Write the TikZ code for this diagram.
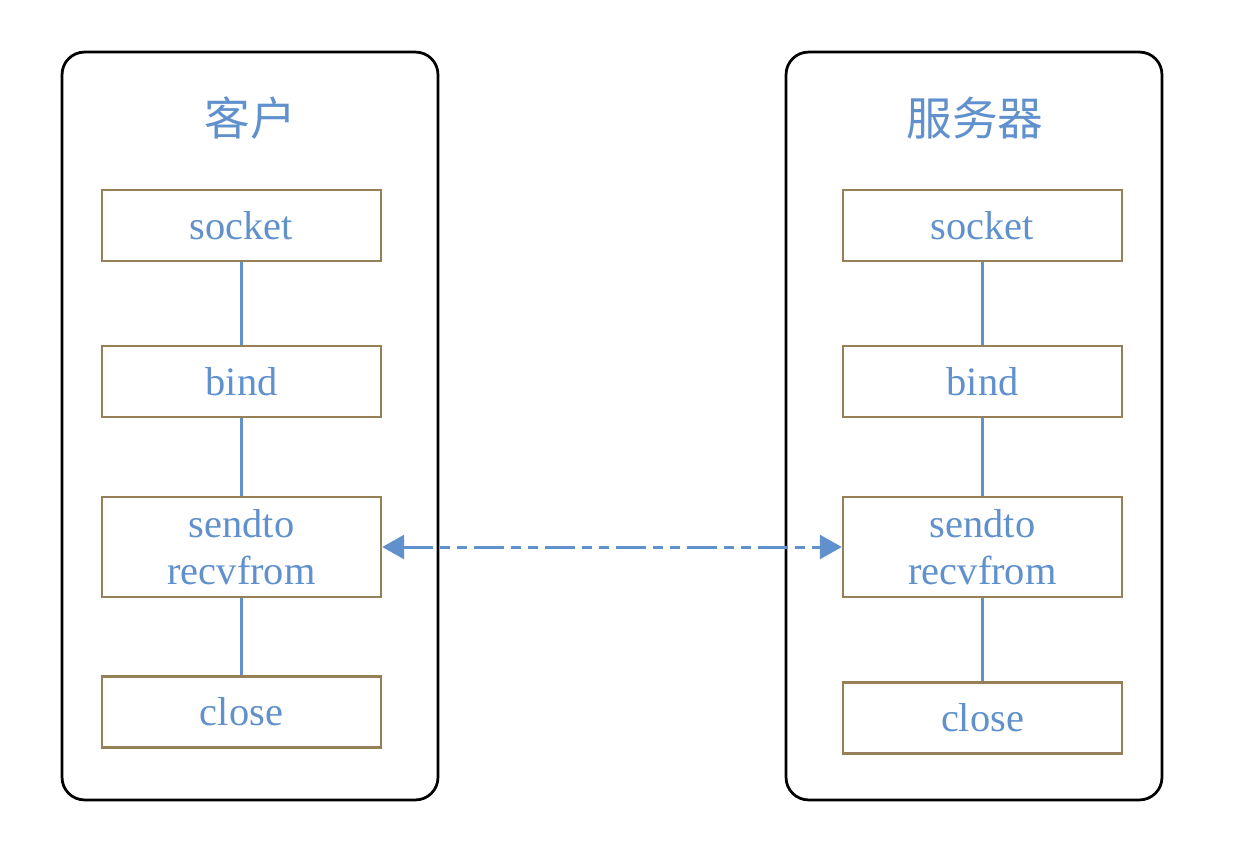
\documentclass[tikz,border=0pt]{standalone}
\usepackage{fontspec}
\setmainfont{Liberation Serif}
\newfontfamily\cjk{Noto Sans CJK SC}
\usetikzlibrary{arrows.meta}
\definecolor{txtblue}{RGB}{96,145,204}
\definecolor{boxbrown}{RGB}{150,128,88}
\begin{document}
\begin{tikzpicture}[x=0.02cm,y=-0.02cm,
  side/.style={draw=black,line width=0.055cm,rounded corners=0.45cm,minimum width=7.52cm,minimum height=14.96cm},
  title/.style={text=txtblue,font=\cjk\fontsize{26}{30}\selectfont},
  call/.style={draw=boxbrown,line width=0.05cm,fill=white,text=txtblue,minimum width=5.58cm,minimum height=1.42cm,align=center,inner sep=0pt,font=\fontsize{23}{27}\selectfont},
  link/.style={draw=txtblue,line width=0.05cm}]
\useasboundingbox (0,0) rectangle (1246,858);
\node[side] (client) at (250,426) {};
\node[side] (server) at (974,426) {};
\node[title] (ctitle) at (250,118) {客户};
\node[title] (stitle) at (975,118) {服务器};
% client side
\node[call] (csock) at (241.5,225.5) {socket};
\node[call] (cbind) at (241.5,381.5) {bind};
\node[call,minimum height=2cm] (csend) at (241.5,547) {sendto\\recvfrom};
\node[call] (cclose) at (241.5,712) {close};
% server side
\node[call] (ssock) at (982.5,225.5) {socket};
\node[call] (sbind) at (982.5,381.5) {bind};
\node[call,minimum height=2cm] (ssend) at (982.5,547) {sendto\\recvfrom};
\node[call] (sclose) at (982.5,718) {close};
\draw[link] (csock) -- (cbind);
\draw[link] (cbind) -- (csend);
\draw[link] (csend) -- (cclose);
\draw[link] (ssock) -- (sbind);
\draw[link] (sbind) -- (ssend);
\draw[link] (ssend) -- (sclose);
\draw[link,line width=0.06cm,{Triangle[length=0.44cm,width=0.48cm]}-{Triangle[length=0.44cm,width=0.48cm]},
  dash pattern=on 0.6cm off 0.14cm on 0.2cm off 0.14cm on 0.2cm off 0.14cm] (csend.east) -- (ssend.west);
\end{tikzpicture}
\end{document}
